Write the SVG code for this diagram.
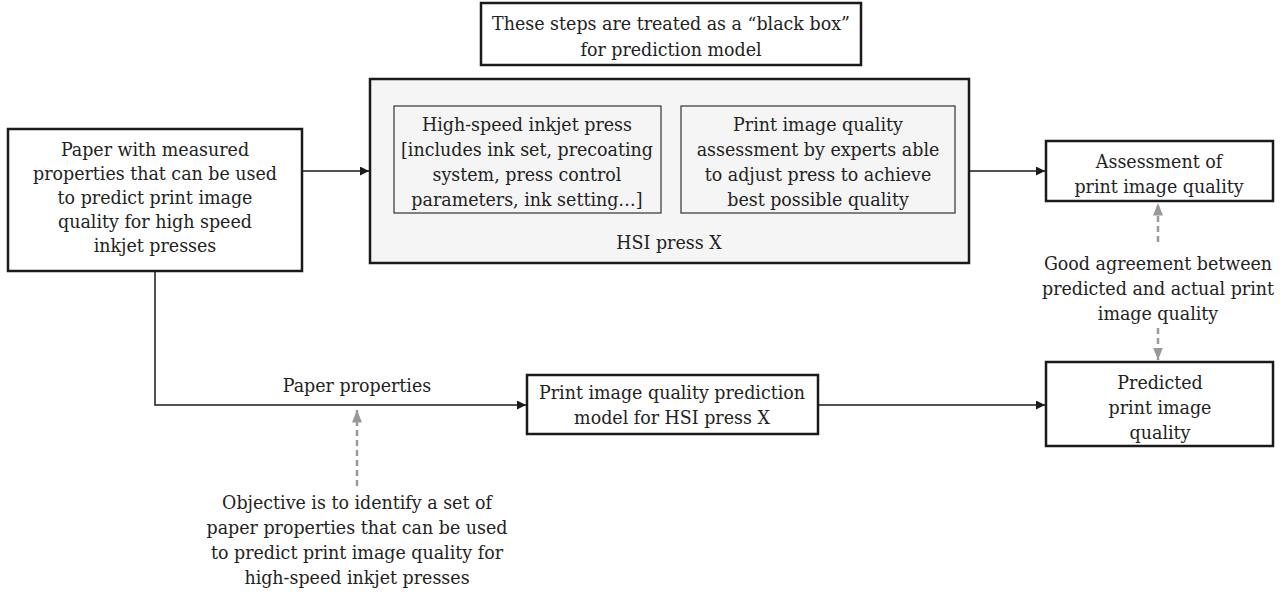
<svg xmlns="http://www.w3.org/2000/svg" width="1285" height="594" viewBox="0 0 1285 594">
<defs>
<style>
text{font-family:"DejaVu Serif","Liberation Serif",serif;font-stretch:condensed;font-size:19.4px;fill:#222;text-anchor:middle}
.box{fill:#fff;stroke:#1a1a1a;stroke-width:2.5}
.inner{fill:#f5f5f5;stroke:#333;stroke-width:1.2}
.conn{fill:none;stroke:#1a1a1a;stroke-width:1.5}
.dash{fill:none;stroke:#999;stroke-width:2.5;stroke-dasharray:6,4}
</style>
<marker id="ah" viewBox="0 0 10 10" refX="10" refY="5" markerWidth="9" markerHeight="9" markerUnits="userSpaceOnUse" orient="auto"><path d="M0,0L10,5L0,10z" fill="#1a1a1a"/></marker>
<marker id="ahg" viewBox="0 0 10 10" refX="10" refY="5" markerWidth="5" markerHeight="5" markerUnits="strokeWidth" orient="auto"><path d="M0,1L10,5L0,9z" fill="#999"/></marker>
</defs>
<rect width="1285" height="594" fill="#fff"/>
<g id="connectors">
<line class="conn" x1="302" y1="171" x2="369" y2="171" marker-end="url(#ah)"/>
<line class="conn" x1="969" y1="171" x2="1045" y2="171" marker-end="url(#ah)"/>
<polyline class="conn" points="155,271 155,405 526,405" marker-end="url(#ah)"/>
<line class="conn" x1="818" y1="405" x2="1045" y2="405" marker-end="url(#ah)"/>
<line class="dash" x1="357" y1="486" x2="357" y2="410" marker-end="url(#ahg)"/>
<line class="dash" x1="1158" y1="242" x2="1158" y2="203" marker-end="url(#ahg)"/>
<line class="dash" x1="1158" y1="328" x2="1158" y2="360" marker-end="url(#ahg)"/>
<text x="357" y="392">Paper properties</text>
<text x="1158" y="270">Good agreement between</text>
<text x="1158" y="295">predicted and actual print</text>
<text x="1158" y="320">image quality</text>
<text x="357" y="509">Objective is to identify a set of</text>
<text x="357" y="534">paper properties that can be used</text>
<text x="357" y="559">to predict print image quality for</text>
<text x="357" y="584">high-speed inkjet presses</text>
</g>
<g id="paper">
<rect class="box" x="8" y="129" width="294" height="142"/>
<text x="155" y="156">Paper with measured</text>
<text x="155" y="180">properties that can be used</text>
<text x="155" y="204">to predict print image</text>
<text x="155" y="228">quality for high speed</text>
<text x="155" y="252">inkjet presses</text>
</g>
<g id="blackbox">
<rect class="box" x="481" y="3" width="380" height="62"/>
<text x="671" y="30">These steps are treated as a “black box”</text>
<text x="671" y="56">for prediction model</text>
</g>
<g id="hsi">
<rect x="370" y="79" width="599" height="184" fill="#f5f5f5" stroke="#1a1a1a" stroke-width="2.5"/>
<text x="669" y="249">HSI press X</text>
</g>
<g id="press">
<rect class="inner" x="394" y="106" width="267" height="107"/>
<text x="527" y="131">High-speed inkjet press</text>
<text x="527" y="156">[includes ink set, precoating</text>
<text x="527" y="181">system, press control</text>
<text x="527" y="206">parameters, ink setting…]</text>
</g>
<g id="experts">
<rect class="inner" x="681" y="106" width="274" height="107"/>
<text x="818" y="131">Print image quality</text>
<text x="818" y="156">assessment by experts able</text>
<text x="818" y="181">to adjust press to achieve</text>
<text x="818" y="206">best possible quality</text>
</g>
<g id="assessment">
<rect class="box" x="1046" y="141" width="227" height="60"/>
<text x="1159" y="168">Assessment of</text>
<text x="1159" y="193">print image quality</text>
</g>
<g id="model">
<rect class="box" x="527" y="375" width="291" height="59"/>
<text x="672" y="399">Print image quality prediction</text>
<text x="672" y="424">model for HSI press X</text>
</g>
<g id="predicted">
<rect class="box" x="1046" y="362" width="227" height="84"/>
<text x="1160" y="389">Predicted</text>
<text x="1160" y="414">print image</text>
<text x="1160" y="439">quality</text>
</g>
</svg>
